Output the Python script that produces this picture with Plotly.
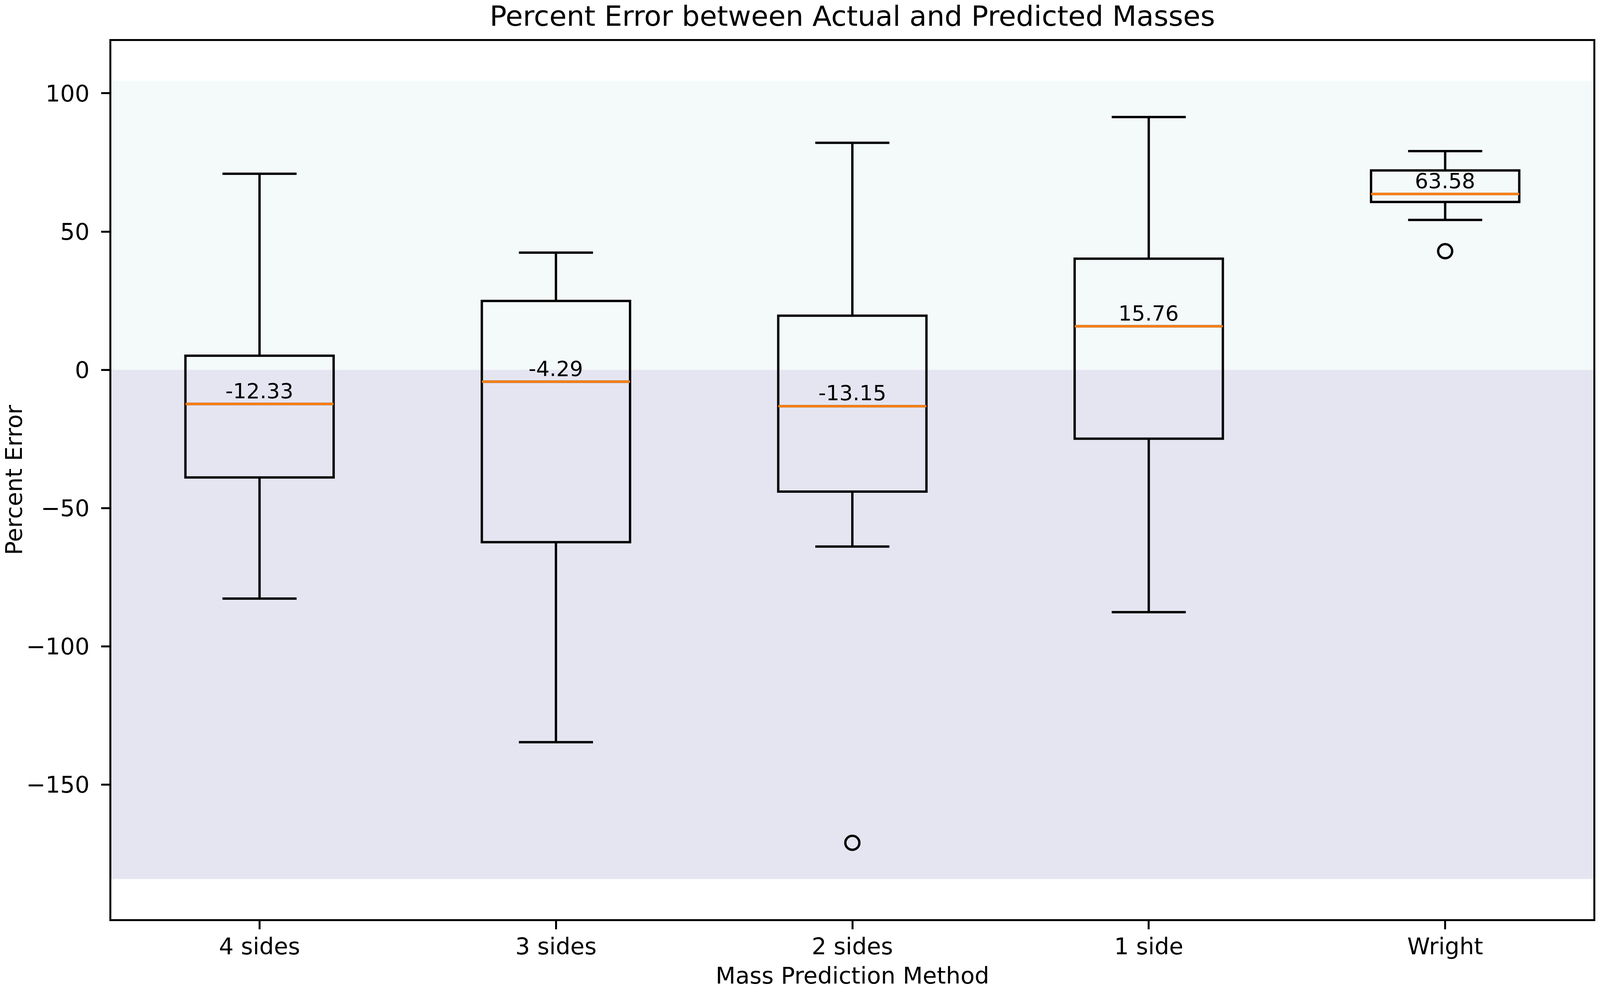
import plotly.graph_objects as go

# ---- data ----
categories = ["4 sides", "3 sides", "2 sides", "1 side", "Wright"]
positions = [1, 2, 3, 4, 5]
q1_vals = [-38.9, -62.3, -44.0, -24.9, 60.7]
median_vals = [-12.33, -4.29, -13.15, 15.76, 63.58]
q3_vals = [5.1, 24.9, 19.6, 40.2, 72.1]
lower_whisker = [-82.7, -134.6, -63.9, -87.6, 54.2]
upper_whisker = [70.9, 42.4, 82.1, 91.4, 79.1]
outlier_x = [3, 5]
outlier_y = [-171.0, 42.9]
positive_band = [0, 104.5]
negative_band = [-184.1, 0]
y_ticks = [-150, -100, -50, 0, 50, 100]

# The browser viewport is 4096 px wide (measured), 2538 px high.
REF_W = 4328
W, H = 4096, 2538
SX = W / REF_W
FONT = "DejaVu Sans"
TICK_PX = 59
TITLE_PX = 72
ANN_PX = 54
LW = 6
box_width = 0.5

fig = go.Figure()

# background bands
fig.add_shape(type="rect", xref="x domain", yref="y", x0=0, x1=1,
              y0=positive_band[0], y1=positive_band[1],
              fillcolor="#F4F9F9", line_width=0, layer="below")
fig.add_shape(type="rect", xref="x domain", yref="y", x0=0, x1=1,
              y0=negative_band[0], y1=negative_band[1],
              fillcolor="#E5E5F2", line_width=0, layer="below")

# boxes
fig.add_trace(go.Box(
    x=positions, q1=q1_vals, median=median_vals, q3=q3_vals,
    lowerfence=lower_whisker, upperfence=upper_whisker,
    width=box_width, whiskerwidth=0.5,
    line=dict(color="black", width=LW),
    fillcolor="rgba(0,0,0,0)", boxpoints=False,
    showlegend=False, hoverinfo="skip",
))

# orange median lines
for p, m in zip(positions, median_vals):
    fig.add_trace(go.Scatter(
        x=[p - box_width / 2, p + box_width / 2], y=[m, m],
        mode="lines", line=dict(color="#ff7f0e", width=LW),
        showlegend=False, hoverinfo="skip",
    ))

# outliers
fig.add_trace(go.Scatter(
    x=outlier_x, y=outlier_y, mode="markers",
    marker=dict(symbol="circle-open", size=36, color="black",
                line=dict(color="black", width=LW)),
    showlegend=False, hoverinfo="skip",
))

# median labels
for p, m in zip(positions, median_vals):
    fig.add_annotation(x=p, y=m, text=f"{m:.2f}", showarrow=False,
                       xanchor="center", yanchor="bottom",
                       font=dict(family=FONT, size=ANN_PX, color="black"))

# axis titles
fig.add_annotation(xref="paper", yref="paper", x=0.5, y=0, yshift=-144,
                   text="Mass Prediction Method", showarrow=False,
                   xanchor="center", yanchor="middle",
                   font=dict(family=FONT, size=TICK_PX, color="black"))
fig.add_annotation(xref="paper", yref="paper", x=0, y=0.5,
                   xshift=-250,
                   text="Percent Error", showarrow=False, textangle=-90,
                   xanchor="center", yanchor="middle",
                   font=dict(family=FONT, size=TICK_PX, color="black"))

axis_common = dict(
    showgrid=False, zeroline=False, showline=True, linecolor="black",
    linewidth=5, mirror=True, ticks="outside", ticklen=21, tickwidth=5,
    tickcolor="black",
    tickfont=dict(family=FONT, size=TICK_PX, color="black"),
)

fig.update_layout(
    width=W, height=H,
    margin=dict(l=round(301 * SX), r=round(14 * SX), t=105, b=184),
    paper_bgcolor="white", plot_bgcolor="white",
    title=dict(text="Percent Error between Actual and Predicted Masses",
               x=0.5, xref="paper", xanchor="center",
               y=1 - 41 / H, yref="container", yanchor="middle",
               font=dict(family=FONT, size=TITLE_PX, color="black")),
    xaxis=dict(range=[0.5, 5.5], tickmode="array", tickvals=positions,
               ticktext=categories, ticklabelstandoff=-7, **axis_common),
    yaxis=dict(range=[-198.6, 118.9], tickmode="array", tickvals=y_ticks,
               ticklabelstandoff=18, **axis_common),
    showlegend=False,
)

fit_script = """
document.body.style.margin='0';
document.body.style.overflow='hidden';
var gd = document.getElementById('{plot_id}');
var vw = window.innerWidth;
if (vw && Math.abs(vw - gd.layout.width) > 2) {
  var s = vw / 4328;
  Plotly.relayout(gd, {width: vw, 'margin.l': Math.round(301*s), 'margin.r': Math.round(14*s)});
}
"""

fig.write_html("out.html", post_script=fit_script,
               config={"displayModeBar": False})
